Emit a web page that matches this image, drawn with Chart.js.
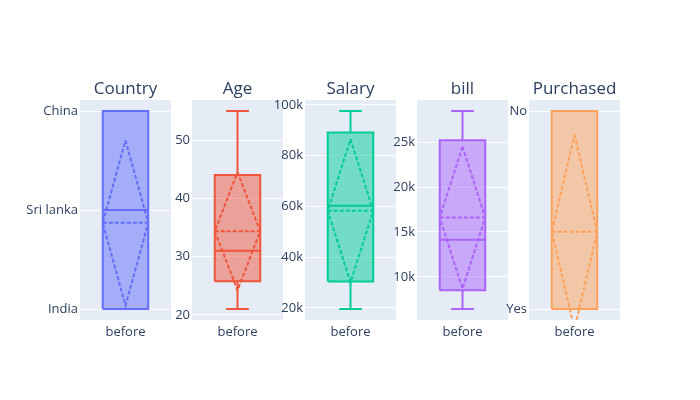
<!DOCTYPE html>
<html>
<head>
<meta charset="utf-8">
<script src="https://cdn.jsdelivr.net/npm/chart.js@4.4.0/dist/chart.umd.min.js"></script>
<style>
  html, body { margin: 0; padding: 0; background: #ffffff; }
  #wrap { position: relative; width: 700px; height: 400px; overflow: hidden; background: #ffffff; }
  #wrap canvas { position: absolute; top: 0; }
</style>
</head>
<body>
<div id="wrap"></div>
<script>
// ---- data ----
const titles = ['Country', 'Age', 'Salary', 'bill', 'Purchased'];
const categories = ['before'];
const minVals    = [0,     21,    19600, 6440,  0];
const q1Vals     = [0,     25.75, 30400, 8520,  0];
const medianVals = [1,     31,    60300, 14140, 0];
const q3Vals     = [2,     44,    89100, 25200, 1];
const maxVals    = [2,     55,    97600, 28450, 1];
const meanVals   = [0.87,  34.35, 58300, 16600, 0.39];
const sdVals     = [0.835, 10.15, 28200, 7900,  0.49];
const countryLabels   = ['India', 'Sri lanka', 'China'];
const purchasedLabels = ['Yes', 'No'];
const ageTicks    = [20, 30, 40, 50];
const salaryTicks = [20000, 40000, 60000, 80000, 100000];
const billTicks   = [10000, 15000, 20000, 25000];

// ---- styling / layout ----
const colors = ['#636efa', '#EF553B', '#00cc96', '#ab63fa', '#FFA15A'];
const FONT = '"Open Sans", "Liberation Sans", sans-serif';
const TEXT = '#2a3f5f';
const PLOT_BG = '#E5ECF6';
const AXW = 60, PW = 91, LEFT = 80, STEP = 112.32;

function rgba(hex, a) {
  const n = parseInt(hex.slice(1), 16);
  return `rgba(${(n >> 16) & 255},${(n >> 8) & 255},${n & 255},${a})`;
}

const tickSets = [
  { values: countryLabels.map((_, i) => i), label: v => countryLabels[v] },
  { values: ageTicks, label: v => String(v) },
  { values: salaryTicks, label: v => (v / 1000) + 'k' },
  { values: billTicks, label: v => (v / 1000) + 'k' },
  { values: purchasedLabels.map((_, i) => i), label: v => purchasedLabels[v] }
];

const bgPlugin = {
  id: 'plotBg',
  beforeDraw(chart) {
    const { ctx, chartArea: a } = chart;
    ctx.save();
    ctx.fillStyle = PLOT_BG;
    ctx.fillRect(a.left, a.top, a.right - a.left, a.bottom - a.top);
    ctx.restore();
  }
};
const titlePlugin = {
  id: 'panelTitle',
  afterDraw(chart, args, opts) {
    const { ctx, chartArea: a } = chart;
    ctx.save();
    ctx.font = '17px ' + FONT;
    ctx.fillStyle = TEXT;
    ctx.textAlign = 'center';
    ctx.textBaseline = 'alphabetic';
    ctx.fillText(opts.text, (a.left + a.right) / 2, a.top - 6);
    ctx.restore();
  }
};

const wrap = document.getElementById('wrap');

titles.forEach((title, i) => {
  const canvas = document.createElement('canvas');
  canvas.width = AXW + PW;
  canvas.height = 400;
  canvas.style.width = (AXW + PW) + 'px';
  canvas.style.height = '400px';
  canvas.style.left = (Math.round(LEFT + i * STEP) - AXW) + 'px';
  wrap.appendChild(canvas);

  const color = colors[i];
  const lo = minVals[i], hi = maxVals[i];
  const pad = (hi - lo) / 18;
  const q1 = q1Vals[i], q3 = q3Vals[i], med = medianVals[i];
  const mean = meanVals[i], sd = sdVals[i];
  const hw = 0.25, cw = 0.125;
  const base = { type: 'line', borderColor: color, borderWidth: 2, pointRadius: 0,
                 pointHoverRadius: 0, tension: 0, spanGaps: false, fill: false };

  const datasets = [
    Object.assign({}, base, { label: 'mean', order: 1, borderDash: [4, 2],
      data: [{x: 0, y: mean + sd}, {x: hw, y: mean}, {x: 0, y: mean - sd}, {x: -hw, y: mean},
             {x: 0, y: mean + sd}, {x: 0, y: null}, {x: -hw, y: mean}, {x: hw, y: mean}] }),
    Object.assign({}, base, { label: 'median', order: 2,
      data: [{x: -hw, y: med}, {x: hw, y: med}] }),
    Object.assign({}, base, { label: 'whiskers', order: 3,
      data: [{x: 0, y: q3}, {x: 0, y: hi}, {x: 0, y: null}, {x: -cw, y: hi}, {x: cw, y: hi},
             {x: 0, y: null}, {x: 0, y: q1}, {x: 0, y: lo}, {x: 0, y: null},
             {x: -cw, y: lo}, {x: cw, y: lo}] }),
    Object.assign({}, base, { label: 'box', order: 4,
      data: [{x: -hw, y: q1}, {x: hw, y: q1}, {x: hw, y: q3}, {x: -hw, y: q3}, {x: -hw, y: q1}] }),
    Object.assign({}, base, { label: 'boxfill', order: 5, borderColor: 'rgba(0,0,0,0)',
      backgroundColor: rgba(color, 0.5), fill: { value: q1 },
      data: [{x: -hw, y: q3}, {x: hw, y: q3}] })
  ];

  const ts = tickSets[i];
  new Chart(canvas, {
    type: 'line',
    data: { datasets },
    options: {
      responsive: false,
      animation: false,
      devicePixelRatio: 1,
      events: [],
      layout: { padding: { top: 100, left: 0, right: 0, bottom: 0 } },
      plugins: {
        legend: { display: false },
        tooltip: { enabled: false },
        panelTitle: { text: title }
      },
      scales: {
        x: {
          type: 'linear', min: -0.5, max: 0.5,
          grid: { display: false, drawTicks: false },
          border: { display: false },
          afterBuildTicks: s => { s.ticks = [{ value: 0 }]; },
          afterFit: s => { s.height = 80; },
          ticks: { autoSkip: false, maxRotation: 0, padding: 4,
                   font: { family: FONT, size: 13 }, color: TEXT,
                   callback: () => categories[0] }
        },
        y: {
          type: 'linear', min: lo - pad, max: hi + pad,
          grid: { color: '#ffffff', lineWidth: 1, drawTicks: false },
          border: { display: false },
          afterBuildTicks: s => { s.ticks = ts.values.map(v => ({ value: v })); },
          afterFit: s => { s.width = AXW; },
          ticks: { autoSkip: false, padding: 2,
                   font: { family: FONT, size: 13 }, color: TEXT,
                   callback: v => ts.label(v) }
        }
      }
    },
    plugins: [bgPlugin, titlePlugin]
  });
});
</script>
</body>
</html>
